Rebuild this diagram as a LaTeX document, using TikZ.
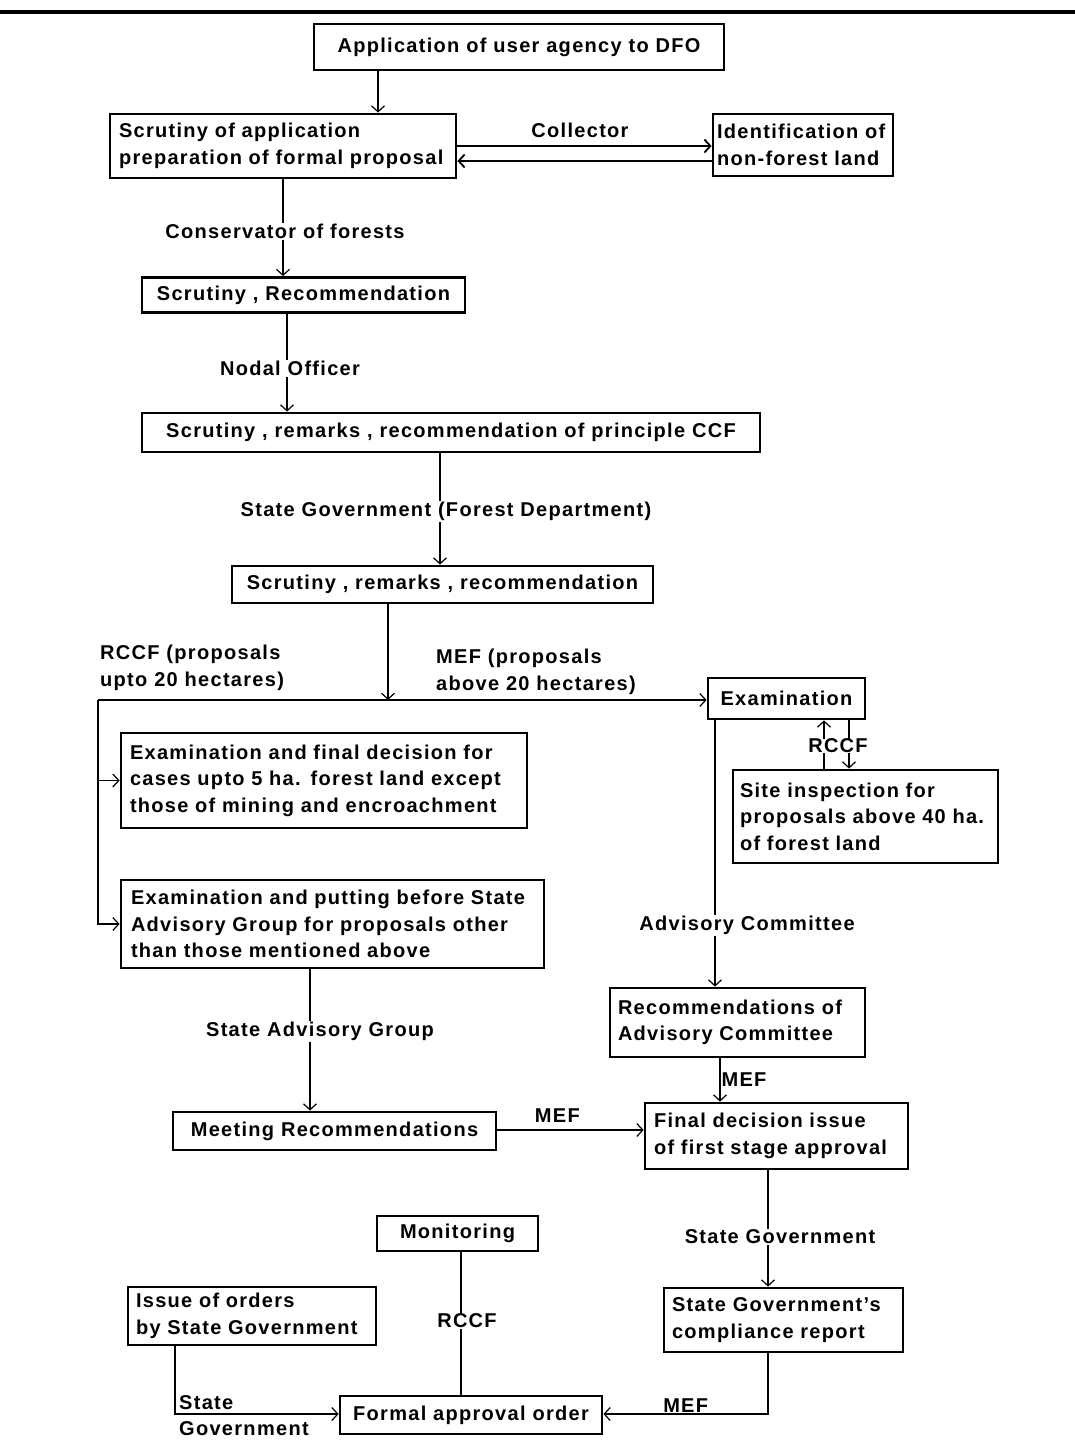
\documentclass[tikz,border=0pt]{standalone}
\usepackage{fontspec}
\setmainfont[LetterSpace=6.5]{Liberation Sans}
\usetikzlibrary{arrows.meta}

\begin{document}
\begin{tikzpicture}[x=1pt, y=-1pt,
    every node/.style={font=\fontsize{20}{26.5}\selectfont\bfseries},
    box/.style={draw, line width=2.8pt, inner sep=0pt, align=center},
    lbl/.style={inner sep=1pt},
    cut/.style={lbl, fill=white},
    arr/.style={-{Straight Barb[length=6pt, width=13pt]}, line width=1.2pt},
    link/.style={line width=1.2pt}
]
    \useasboundingbox (0,0) rectangle (1075,1447);
    \draw[line width=4pt] (0,12) -- (1075,12);

    % Boxes
    \node[box, minimum width=410pt, minimum height=46pt] (apply) at (519,47) {Application of user agency to DFO};
    \node[box, minimum width=346pt, minimum height=64pt, text width=328pt, align=left] (scrutiny) at (283,146) {Scrutiny of application\\preparation of formal proposal};
    \node[box, minimum width=180pt, minimum height=62pt, text width=172pt, align=left] (nonforest) at (803,145) {Identification of\\non-forest land};
    \node[box, minimum width=323pt, minimum height=35pt] (conserv) at (303.5,295) {Scrutiny , Recommendation};
    \node[box, minimum width=618pt, minimum height=39pt] (nodal) at (451,432.5) {Scrutiny , remarks , recommendation of principle CCF};
    \node[box, minimum width=421pt, minimum height=37pt] (stategov) at (442.5,584.5) {Scrutiny , remarks , recommendation};
    \node[box, minimum width=157pt, minimum height=41pt] (exam) at (786.5,698.5) {Examination};
    \node[box, minimum width=406pt, minimum height=95pt, text width=388pt, align=left] (smallcase) at (324,780.5) {Examination and final decision for\\cases upto 5 ha. forest land except\\those of mining and encroachment};
    \node[box, minimum width=265pt, minimum height=93pt, text width=251pt, align=left] (site) at (865.5,816.5) {Site inspection for\\proposals above 40 ha.\\of forest land};
    \node[box, minimum width=423pt, minimum height=88pt, text width=403pt, align=left] (sagexam) at (332.5,924) {Examination and putting before State\\Advisory Group for proposals other\\than those mentioned above};
    \node[box, minimum width=255pt, minimum height=69pt, text width=239pt, align=left] (advrec) at (737.5,1022.5) {Recommendations of\\Advisory Committee};
    \node[box, minimum width=323pt, minimum height=38pt] (meeting) at (334.5,1131) {Meeting Recommendations};
    \node[box, minimum width=263pt, minimum height=66pt, text width=245pt, align=left] (firststage) at (776.5,1136) {Final decision issue\\of first stage approval};
    \node[box, minimum width=161pt, minimum height=35pt] (monitor) at (457.5,1233.5) {Monitoring};
    \node[box, minimum width=248pt, minimum height=58pt, text width=232pt, align=left] (orders) at (252,1316) {Issue of orders\\by State Government};
    \node[box, minimum width=239pt, minimum height=64pt, text width=223pt, align=left] (compliance) at (783.5,1320) {State Government's\\compliance report};
    \node[box, minimum width=262pt, minimum height=38pt] (formal) at (471,1415) {Formal approval order};

    % Free labels
    \node[lbl] (collector) at (580,130) {Collector};
    \node[lbl, anchor=west, align=left] (upto) at (99,668) {RCCF (proposals\\upto 20 hectares)};
    \node[lbl, anchor=west, align=left] (above) at (435,672) {MEF (proposals\\above 20 hectares)};
    \node[lbl, anchor=west] (stateq) at (178,1403) {State};
    \node[lbl, anchor=west] (govq) at (178,1429) {Government};
    \coordinate (split) at (388,700);
    \coordinate (branch) at (98,700);

    % Connectors
    \draw[arr] (apply.south -| 378,0) -- (scrutiny.north -| 378,0);
    \draw[arr, line width=1.8pt] (scrutiny.east |- 0,146) -- (nonforest.west |- 0,146);
    \draw[arr, line width=1.8pt] (nonforest.west |- 0,161) -- (scrutiny.east |- 0,161);
    \draw[arr] (scrutiny.south -| 283,0) -- node[cut, pos=.54, xshift=2pt] {Conservator of forests} (conserv.north -| 283,0);
    \draw[arr] (conserv.south -| 287,0) -- node[cut, pos=.56, xshift=3pt] {Nodal Officer} (nodal.north -| 287,0);
    \draw[arr] (nodal.south -| 440,0) -- node[cut, pos=.52, xshift=6pt] {State Government (Forest Department)} (stategov.north -| 440,0);
    \draw[arr] (stategov.south -| split) -- (split);
    \draw[arr] (branch) -- (exam.west |- branch);
    \draw[arr] (branch) |- (smallcase.west);
    \draw[arr] (branch) |- (sagexam.west);
    \draw[arr] (site.north -| 824,0) -- (exam.south -| 824,0);
    \draw[arr] (exam.south -| 849,0) -- (site.north -| 849,0);
    \node[cut, inner sep=0pt] (rccfsite) at (838,746) {RCCF};
    \draw[arr] (exam.south -| 715,0) -- node[cut, pos=.77, xshift=32pt] {Advisory Committee} (advrec.north -| 715,0);
    \draw[arr] (advrec.south -| 720,0) -- node[lbl, right] {MEF} (firststage.north -| 720,0);
    \draw[arr] (sagexam.south -| 310,0) -- node[cut, pos=.44, xshift=10pt] {State Advisory Group} (meeting.north -| 310,0);
    \draw[arr] (meeting.east |- 0,1130) -- node[lbl, above=6pt, pos=.41] {MEF} (firststage.west |- 0,1130);
    \draw[arr] (firststage.south -| 768,0) -- node[cut, pos=.57, xshift=12pt] {State Government} (compliance.north -| 768,0);
    \draw[arr] (compliance.south -| 768,0) |- node[lbl, above, pos=.75] {MEF} (formal.east |- 0,1414);
    \draw[link] (monitor.south -| 461,0) -- node[cut, pos=.48, xshift=6pt] {RCCF} (formal.north -| 461,0);
    \draw[arr] (orders.south -| 175,0) |- (formal.west |- 0,1414);
\end{tikzpicture}
\end{document}
